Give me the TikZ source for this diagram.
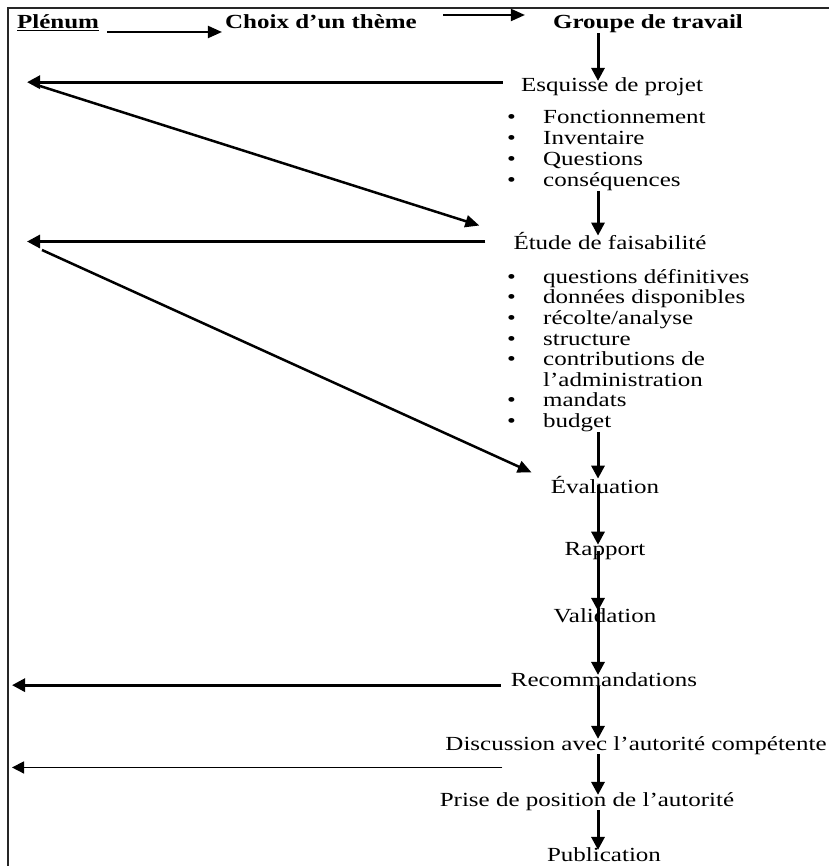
\documentclass[tikz,border=0pt]{standalone}
\usepackage{fontspec}
\setmainfont[FakeStretch=1.25]{Liberation Serif}
\usetikzlibrary{arrows.meta,positioning}

\newcommand{\puce}{\makebox[36pt][l]{\textbullet}}

\begin{document}
\begin{tikzpicture}[
        x=1pt, y=-1pt,
        every node/.style={inner sep=0pt, font=\fontsize{20}{21}\selectfont},
        titre/.style={font=\fontsize{20}{21}\selectfont\bfseries, anchor=base},
        etape/.style={anchor=base},
        liste/.style={anchor=north west, align=left},
        entete/.style={line width=2pt, -{Triangle[length=14pt,width=12pt]}},
        flow/.style={line width=3pt, -{Triangle[length=13pt,width=13pt]}, shorten >=-3pt},
        retour/.style={line width=3pt, -{Triangle[length=13pt,width=13pt]}},
        retourfin/.style={line width=1.5pt, -{Triangle[length=12pt,width=12pt]}},
        renvoi/.style={line width=2.5pt, -{Triangle[length=14pt,width=12pt]}},
        cadre/.style={line width=1.5pt, black!85}
    ]
    \useasboundingbox (0,0) rectangle (829,866);

    % Frame
    \draw[cadre] (8,866) -- (8,8) -- (829,8);

    % Header
    \node[titre] (plenum) at (58,29) {\underline{Plénum}};
    \node[titre] (choix) at (321,29) {Choix d'un thème};
    \node[titre] (groupe) at (648,29) {Groupe de travail};

    \draw[entete] ([shift={(8pt,-3pt)}]plenum.base east) -- ([shift={(-3pt,-3pt)}]choix.base west);
    \draw[entete] ([shift={(26pt,14pt)}]choix.base east) -- ([shift={(-28pt,14pt)}]groupe.base west);

    % Nodes
    \node[etape] (esquisse) at (612,92) {Esquisse de projet};
    \node[liste] (esqliste) at (507,110) {\puce Fonctionnement\\ \puce Inventaire\\ \puce Questions\\ \puce conséquences};
    \node[etape] (etude) at (610,250) {Étude de faisabilité};
    \node[liste, font=\fontsize{20}{20.6}\selectfont] (etudeliste) at (507,269) {\puce questions définitives\\
        \puce données disponibles\\ \puce récolte/analyse\\ \puce structure\\ \puce contributions de\\
        \hspace*{36pt}l'administration\\ \puce mandats\\ \puce budget};
    \node[etape] (evaluation) at (605,493) {Évaluation};
    \node[etape] (rapport) at (605,555) {Rapport};
    \node[etape] (validation) at (605,622) {Validation};
    \node[etape] (recom) at (604,686) {Recommandations};
    \node[etape] (discussion) at (636,750) {Discussion avec l'autorité compétente};
    \node[etape] (prise) at (587,806) {Prise de position de l'autorité};
    \node[etape] (publication) at (604,861) {Publication};

    \coordinate (axe) at (598,0);
    \coordinate (gauche) at (27,0);
    \coordinate (bord) at (12,0);
    \coordinate (depart1) at (40,86);
    \coordinate (depart2) at (42,250);

    % Main flow
    \draw[flow] (groupe.south -| axe) -- (esquisse.north -| axe);
    \draw[flow] (esqliste.south -| axe) -- (etude.north -| axe);
    \draw[flow] (etudeliste.south -| axe) -- (evaluation.north -| axe);
    \draw[flow] (evaluation.center -| axe) -- (rapport.north -| axe);
    \draw[flow] (rapport.center -| axe) -- (validation.north -| axe);
    \draw[flow] (validation.north -| axe) -- (recom.north -| axe);
    \draw[flow] (recom.south -| axe) -- (discussion.north -| axe);
    \draw[flow] (discussion.south -| axe) -- (prise.north -| axe);
    \draw[flow] (prise.south -| axe) -- (publication.north -| axe);

    % Back to the plenum
    \draw[retour] ([shift={(-18pt,5pt)}]esquisse.west) coordinate (r1) -- (r1 -| gauche);
    \draw[retour] ([xshift=-28pt]etude.west) coordinate (r2) -- (r2 -| gauche);
    \draw[retour] ([shift={(-10pt,-6pt)}]recom.west) coordinate (r3) -- (r3 -| bord);
    \draw[retourfin] ([shift={(57pt,-13pt)}]discussion.south west) coordinate (r4) -- (r4 -| bord);

    % Plenum feedback
    \draw[renvoi] (depart1) -- ([shift={(-34pt,16pt)}]etude.west);
    \draw[renvoi] (depart2) -- ([shift={(-19pt,12pt)}]evaluation.west);

\end{tikzpicture}
\end{document}
